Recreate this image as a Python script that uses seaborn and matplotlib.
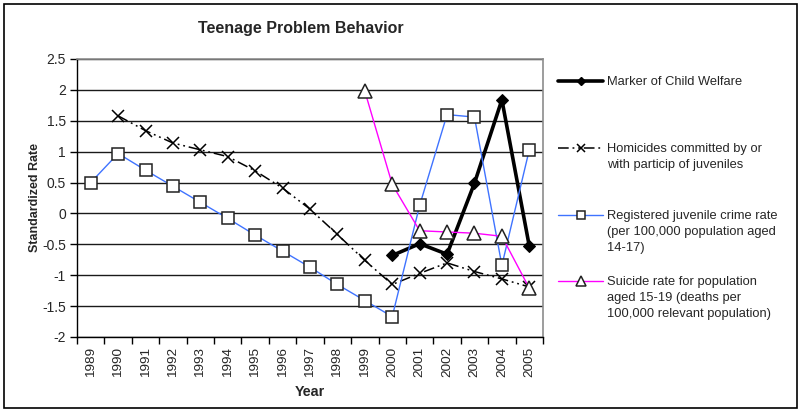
import matplotlib
matplotlib.use('Agg')
from matplotlib import pyplot as plt
from matplotlib.lines import Line2D
from matplotlib.patches import Rectangle
import seaborn as sbn

# years on the x axis
years = list(range(1989, 2006))

# standardized rates
welfare_years = [2000, 2001, 2002, 2003, 2004, 2005]
welfare = [-0.68, -0.49, -0.66, 0.49, 1.84, -0.53]

homicide_years = list(range(1990, 2006))
homicide = [1.58, 1.34, 1.14, 1.03, 0.92, 0.69, 0.41, 0.07, -0.34, -0.76,
            -1.15, -0.97, -0.80, -0.94, -1.06, -1.19]

crime_years = list(range(1989, 2006))
crime = [0.50, 0.97, 0.70, 0.44, 0.18, -0.08, -0.35, -0.61, -0.87, -1.15,
         -1.41, -1.67, 0.13, 1.60, 1.56, -0.84, 1.03]

suicide_years = list(range(1999, 2006))
suicide = [1.98, 0.47, -0.28, -0.30, -0.32, -0.37, -1.21]

labels = ['Marker of Child Welfare',
          'Homicides committed by or\nwith particip of juveniles',
          'Registered juvenile crime rate\n(per 100,000 population aged\n14-17)',
          'Suicide rate for population\naged 15-19 (deaths per\n100,000 relevant population)']
yticks = [2.5, 2, 1.5, 1, 0.5, 0, -0.5, -1, -1.5, -2]

sbn.set_style('white')
plt.rcParams['font.family'] = ['Liberation Sans', 'DejaVu Sans']

W, H = 801, 412
fig = plt.figure(figsize=(W / 100, H / 100), dpi=100)
ax = fig.add_axes([77 / W, (H - 337) / H, 466 / W, 278 / H])

dashdot = (0, (7, 2.5, 1.2, 2.5, 1.2, 2.5))
styles = [
    dict(color='black', lw=2.6, marker='D', markersize=6.5, markerfacecolor='black',
         markeredgecolor='black', linestyle='-'),
    dict(color='black', lw=1.1, marker='x', markersize=9, markeredgewidth=1.1,
         markeredgecolor='black', linestyle=dashdot),
    dict(color='#3f73ff', lw=1.0, marker='s', markersize=9, markerfacecolor='white',
         markeredgecolor='#222222', markeredgewidth=1.1, linestyle='-'),
    dict(color='#ff00ff', lw=1.0, marker='^', markersize=10, markerfacecolor='white',
         markeredgecolor='#222222', markeredgewidth=1.1, linestyle='-'),
]
series = [(welfare_years, welfare), (homicide_years, homicide),
          (crime_years, crime), (suicide_years, suicide)]

for (xs, ys), st in zip(series, styles):
    sbn.lineplot(x=xs, y=ys, ax=ax, zorder=3, clip_on=False, **st)

ax.set_xlim(years[0] - 0.5, years[-1] + 0.5)
ax.set_ylim(-2, 2.5)
ax.set_yticks(yticks)
ax.set_yticklabels(['%g' % v for v in yticks], fontsize=10)
ax.set_xticks(years)
ax.set_xticklabels([str(y) for y in years], rotation=90, fontsize=9.7)
ax.set_xticks([y - 0.5 for y in years] + [years[-1] + 0.5], minor=True)
ax.tick_params(axis='x', which='major', length=0, pad=7)
ax.tick_params(axis='x', which='minor', length=5, width=1, color='black', direction='out', bottom=True)
ax.tick_params(axis='y', length=5, width=1, color='black', direction='out', left=True, pad=3)

ax.yaxis.grid(True, color='#1a1a1a', lw=1)
ax.xaxis.grid(False)
for side in ['top', 'right']:
    ax.spines[side].set_color('#8c8c8c')
    ax.spines[side].set_linewidth(1.2)
for side in ['left', 'bottom']:
    ax.spines[side].set_color('black')
    ax.spines[side].set_linewidth(1)

ax.set_ylabel('Standardized Rate', fontsize=9, fontweight='bold', labelpad=1)
ax.set_xlabel('Year', fontsize=10.3, fontweight='bold', labelpad=6)
fig.text(301 / W, 1 - 29 / H, 'Teenage Problem Behavior', ha='center', va='center',
         fontsize=11.5, fontweight='bold')

# legend, one block per series so each entry sits at its own height
legend_tops = [76, 143, 210, 276]
for st, lab, top in zip(styles, labels, legend_tops):
    st2 = dict(st)
    st2['markersize'] = st['markersize'] * 0.7
    handle = Line2D([], [], **st2)
    leg = fig.legend([handle], [lab], loc='upper left', bbox_to_anchor=(558 / W, 1 - top / H),
                     frameon=False, fontsize=9.3, handlelength=3.5, handletextpad=0.3,
                     borderpad=0, borderaxespad=0)
    for col in leg._legend_handle_box.get_children():
        for item in col.get_children():
            item.align = 'top'
    for t in leg.get_texts():
        t.set_linespacing(1.42)

fig.patches.append(Rectangle((4 / W, 4 / H), (W - 8) / W, (H - 8) / H, transform=fig.transFigure,
                             fill=False, edgecolor='black', lw=1.2))

fig.savefig('out.png', dpi=100)
